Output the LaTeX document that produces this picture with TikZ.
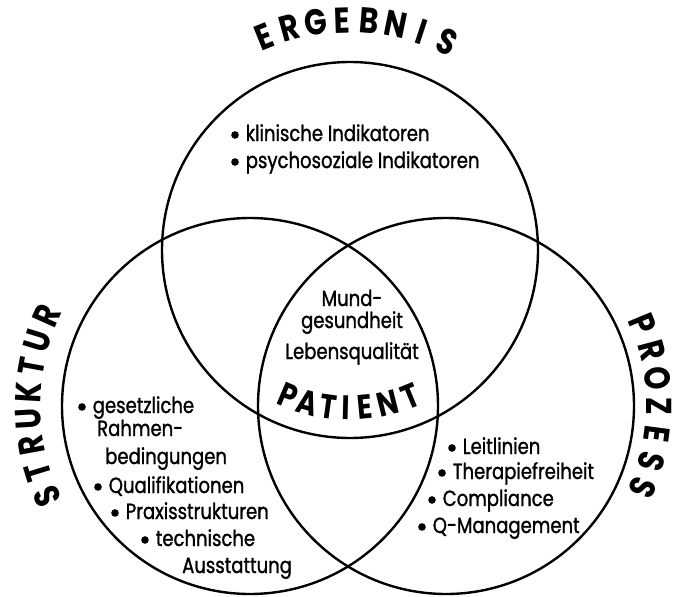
\documentclass[tikz,border=0pt]{standalone}
\usepackage{fontspec}
\setmainfont{Poppins}[FakeStretch=0.82]
\newfontfamily\bodyfont{Poppins}[FakeStretch=0.82,FakeBold=1.2]
\usepackage{tikz}

\newcommand{\bul}{\tikz[baseline=-0.5ex]\fill (0,0) circle (3.8pt);\hspace{7pt}}

\begin{document}
\begin{tikzpicture}[x=1pt,y=1pt,
  ring/.style={draw,circle,line width=2.4pt,minimum size=376pt,inner sep=0pt,outer sep=0pt},
  txt/.style={font=\bodyfont\fontsize{22}{24}\selectfont,inner sep=0pt,anchor=base west},
  mid/.style={font=\bodyfont\fontsize{22}{24}\selectfont,inner sep=0pt,anchor=base},
  head/.style={font=\fontsize{36}{36}\selectfont\bfseries,inner sep=0pt},
  pat/.style={font=\fontsize{34}{34}\selectfont\bfseries,inner sep=0pt}]
 \useasboundingbox (0,0) rectangle (686,-597);
 \node[ring] (erg) at (350,-250) {};
 \node[ring] (str) at (250,-406) {};
 \node[ring] (pro) at (446,-406) {};
 \foreach \ch [count=\i] in {E,R,G,E,B,N,I,S}
   \node[head,rotate={22-6.7*(\i-1)}] (ergl\i) at ([shift={({112-6.7*(\i-1)}:230pt)}]erg.center) {\ch};
 \foreach \ch [count=\i] in {S,T,R,U,K,T,U,R}
   \node[head,rotate={114-6.86*(\i-1)}] (strl\i) at ([shift={({204-6.86*(\i-1)}:222pt)}]str.center) {\ch};
 \foreach \ch [count=\i] in {P,R,O,Z,E,S,S}
   \node[head,rotate={-67.5-7.5*(\i-1)}] (prol\i) at ([shift={({22.5-7.5*(\i-1)}:213pt)}]pro.center) {\ch};
 \foreach \ch/\a [count=\i] in {P/247,A/254.5,T/262,I/268.5,E/275.5,N/284,T/292.5}
   \node[pat,rotate=\a+90] (patl\i) at ([shift={(\a:158pt)}]erg.center) {\ch};
 \node[txt] (kli) at (231,-141) {\bul klinische Indikatoren};
 \node[txt] (psy) at (231,-168) {\bul psychosoziale Indikatoren};
 \node[mid] (mun) at (352,-306) {Mund-};
 \node[mid] (ges) at (352,-328) {gesundheit};
 \node[mid] (leb) at (352,-359) {Lebensqualität};
 \node[txt] (geg) at (78,-413)  {\bul gesetzliche};
 \node[txt] (rah) at (97,-436)  {Rahmen-};
 \node[txt] (bed) at (105,-464) {bedingungen};
 \node[txt] (qua) at (94,-493)  {\bul Qualifikationen};
 \node[txt] (pra) at (111,-519) {\bul Praxisstrukturen};
 \node[txt] (tec) at (141,-546) {\bul technische};
 \node[txt] (aus) at (182,-573) {Ausstattung};
 \node[txt] (lei) at (448,-454) {\bul Leitlinien};
 \node[txt] (the) at (438,-479) {\bul Therapiefreiheit};
 \node[txt] (com) at (428,-506) {\bul Compliance};
 \node[txt] (qma) at (418,-533) {\bul Q-Management};
\end{tikzpicture}
\end{document}
